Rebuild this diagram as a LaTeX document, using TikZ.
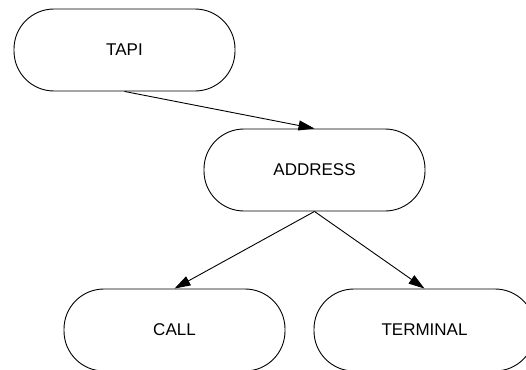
\documentclass[tikz,border=0pt]{standalone}
\usepackage{fontspec}
\setmainfont{Liberation Sans}
\usetikzlibrary{arrows.meta}
\begin{document}
\begin{tikzpicture}[x=1pt,y=-1pt,
  objbox/.style={draw=black, line width=0.9pt, rounded corners=40pt, minimum width=221pt, minimum height=82pt, inner sep=0pt, font=\fontsize{17}{20}\selectfont},
  link/.style={draw=black, line width=0.9pt, -{Triangle[length=16pt,width=10pt]}}]
\useasboundingbox (0,0) rectangle (526,369);
\node[objbox] (tapi) at (124.5,50) {TAPI};
\node[objbox] (addr) at (314.5,170) {ADDRESS};
\node[objbox] (call) at (174.5,330) {CALL};
\node[objbox] (term) at (424.5,330) {TERMINAL};
\draw[link] (tapi.south) -- (addr.north);
\draw[link] (addr.south) -- (call.north);
\draw[link] (addr.south) -- (term.north);
\end{tikzpicture}
\end{document}
